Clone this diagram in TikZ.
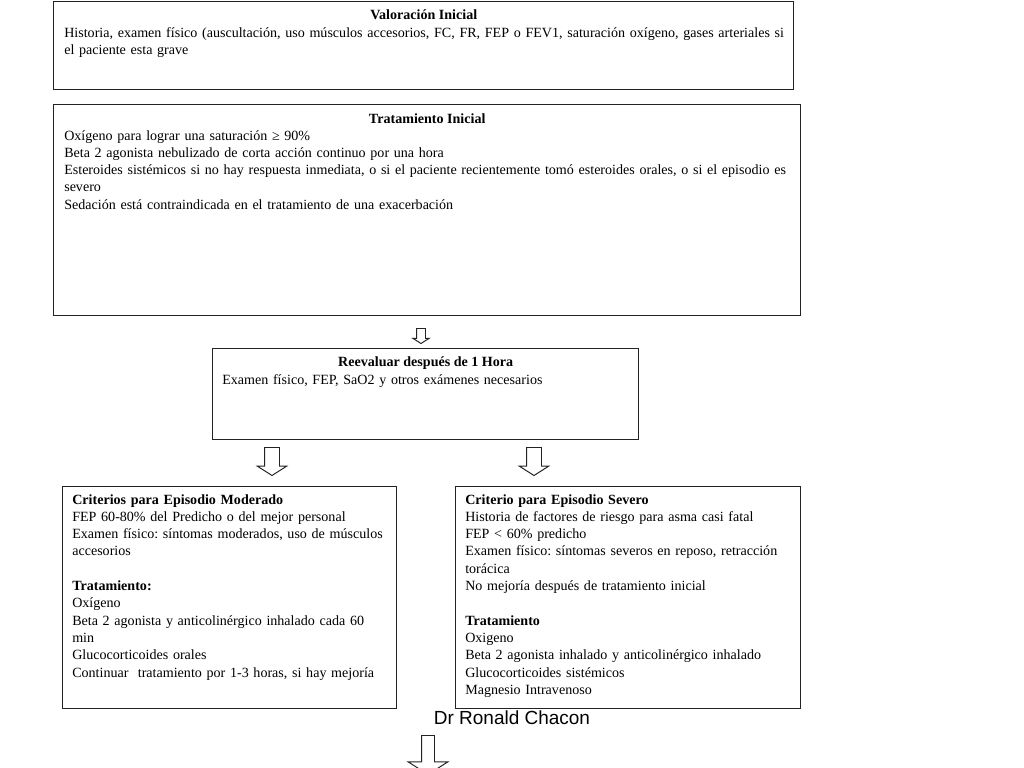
\documentclass[tikz,border=0pt]{standalone}
\usepackage{fontspec}
\setmainfont{Liberation Serif}
\setsansfont{Liberation Sans}
\usepackage{tikz}
\usetikzlibrary{positioning, calc, shapes.arrows}
\definecolor{rcLine}{RGB}{35,35,35}
\frenchspacing

\begin{document}
\begin{tikzpicture}[
    x=0.025cm, y=-0.025cm,
    font=\fontsize{10}{12.3}\selectfont,
    box/.style={draw=rcLine, line width=0.9pt, anchor=north west, inner sep=0pt},
    ttl/.style={inner sep=0pt, font=\fontsize{10}{12.3}\selectfont\bfseries},
    txt/.style={anchor=north west, inner sep=0pt, align=left},
    blk/.style={single arrow, draw=rcLine, line width=0.7pt, rotate=-90,
                anchor=tail, inner xsep=0pt, single arrow tip angle=115}
]
\useasboundingbox (0,0) rectangle (1024,768);

\node[box, minimum width=18.5cm,   minimum height=2.2cm]   (ini)  at (53,1)    {};
\node[box, minimum width=18.675cm, minimum height=5.275cm] (trat) at (53,104)  {};
\node[box, minimum width=10.65cm,  minimum height=2.275cm] (reev) at (212,348) {};
\node[box, minimum width=8.35cm,   minimum height=5.55cm]  (mod)  at (62,486)  {};
\node[box, minimum width=8.625cm,  minimum height=5.55cm]  (sev)  at (455,486) {};

\node[ttl] (iniT)  at ($(ini.north)+(0,14)$)  {Valoración Inicial};
\node[ttl] (tratT) at ($(trat.north)+(0,15)$) {Tratamiento Inicial};
\node[ttl] (reevT) at ($(reev.north)+(0,15)$) {Reevaluar después de 1 Hora};

\node[txt, text width=18cm] (iniB) at ($(ini.north west)+(11,26)$)
  {Historia, examen físico (auscultación, uso músculos accesorios, FC, FR, FEP o FEV1, saturación oxígeno, gases arteriales si\\
   el paciente esta grave};
\node[txt, text width=18.4cm] (tratB) at ($(trat.north west)+(11,26)$)
  {Oxígeno para lograr una saturación ≥ 90\%\\
   Beta 2 agonista nebulizado de corta acción continuo por una hora\\
   Esteroides sistémicos si no hay respuesta inmediata, o si el paciente recientemente tomó esteroides orales, o si el episodio es\\
   severo\\
   Sedación está contraindicada en el tratamiento de una exacerbación};
\node[txt, text width=10.2cm] (reevB) at ($(reev.north west)+(10,26)$)
  {Examen físico, FEP, SaO2 y otros exámenes necesarios};

\node[txt, text width=8.1cm] (modB) at ($(mod.north west)+(10,8)$)
  {\textbf{Criterios para Episodio Moderado}\\
   FEP 60-80\% del Predicho o del mejor personal\\
   Examen físico: síntomas moderados, uso de músculos\\
   accesorios\\[12.3pt]
   \textbf{Tratamiento:}\\
   Oxígeno\\
   Beta 2 agonista y anticolinérgico inhalado cada 60\\
   min\\
   Glucocorticoides orales\\
   Continuar\ \ tratamiento por 1-3 horas, si hay mejoría};
\node[txt, text width=8.3cm] (sevB) at ($(sev.north west)+(10,8)$)
  {\textbf{Criterio para Episodio Severo}\\
   Historia de factores de riesgo para asma casi fatal\\
   FEP < 60\% predicho\\
   Examen físico: síntomas severos en reposo, retracción\\
   torácica\\
   No mejoría después de tratamiento inicial\\[12.3pt]
   \textbf{Tratamiento}\\
   Oxigeno\\
   Beta 2 agonista inhalado y anticolinérgico inhalado\\
   Glucocorticoides sistémicos\\
   Magnesio Intravenoso};

\node[blk, minimum height=0.375cm, inner ysep=0.1cm,    single arrow head extend=0.09cm]   (a1) at (421,328) {};
\node[blk, minimum height=0.7cm,   inner ysep=0.175cm,  single arrow head extend=0.18cm]   (a2) at (272,447) {};
\node[blk, minimum height=0.7cm,   inner ysep=0.175cm,  single arrow head extend=0.18cm]   (a3) at (534,447) {};
\node[blk, minimum height=0.975cm, inner ysep=0.15cm,   single arrow head extend=0.3375cm] (a4) at (428,735) {};

\node[font=\sffamily\fontsize{13.5}{15}\selectfont] (firma) at (512,718) {Dr Ronald Chacon};
\end{tikzpicture}
\end{document}
